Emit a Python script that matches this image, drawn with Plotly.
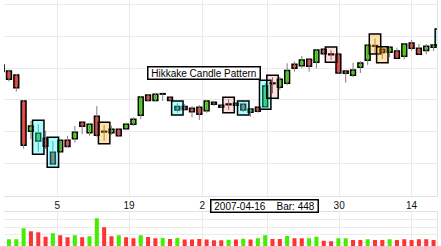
import plotly.graph_objects as go

# ---- data (bar index, OHLC, volume) ----
bar_index = list(range(-1, 60))
open_ = [1523.8, 1516.3, 1511.3, 1478.8, 1440.9, 1428.8, 1432.1, 1414.6, 1415.4, 1429.6,
         1431.6, 1452.1, 1439.1, 1459.6, 1440.9, 1439.1, 1443.4, 1444.1, 1449.6, 1460.9,
         1486.3, 1479.4, 1487.8, 1483.4, 1471.9, 1471.9, 1469.6, 1470.9, 1466.6, 1477.1,
         1473.4, 1474.1, 1473.4, 1474.6, 1464.6, 1470.9, 1471.6, 1501.3, 1495.9, 1500.9,
         1524.6, 1522.9, 1530.9, 1527.1, 1543.4, 1537.5, 1537.1, 1516.3, 1510.9, 1520.9,
         1529.6, 1548.1, 1543.4, 1539.6, 1541.3, 1534.6, 1551.3, 1544.6, 1541.9, 1545.9,
         1550.0]
high = [1526.3, 1518.1, 1512.5, 1480.0, 1453.8, 1449.6, 1441.6, 1428.8, 1431.3, 1435.0,
        1447.5, 1452.9, 1451.6, 1472.5, 1448.8, 1447.9, 1444.1, 1451.6, 1458.4, 1485.0,
        1487.5, 1487.5, 1487.9, 1484.6, 1475.9, 1475.0, 1472.5, 1473.8, 1480.0, 1478.8,
        1474.4, 1480.9, 1476.9, 1476.9, 1470.0, 1472.5, 1500.9, 1508.4, 1509.1, 1525.9,
        1528.1, 1535.0, 1531.9, 1543.1, 1544.4, 1542.5, 1539.1, 1517.5, 1526.6, 1528.8,
        1548.8, 1556.9, 1546.3, 1546.6, 1545.4, 1550.4, 1555.0, 1550.0, 1550.0, 1550.0,
        1567.5]
low = [1515.0, 1503.1, 1490.4, 1419.1, 1431.3, 1415.4, 1418.8, 1398.8, 1413.8, 1421.3,
       1426.9, 1437.1, 1435.4, 1434.1, 1428.8, 1436.3, 1434.1, 1442.1, 1447.5, 1455.9,
       1478.1, 1477.9, 1478.8, 1478.8, 1464.1, 1466.9, 1458.4, 1455.0, 1464.1, 1472.5,
       1470.0, 1467.5, 1472.5, 1465.0, 1459.1, 1464.1, 1469.6, 1488.4, 1492.5, 1498.4,
       1515.6, 1519.6, 1515.4, 1519.6, 1536.9, 1530.0, 1513.4, 1501.6, 1508.8, 1513.8,
       1523.8, 1538.4, 1531.3, 1533.4, 1531.9, 1530.9, 1541.6, 1536.9, 1537.1, 1541.3,
       1547.5]
close = [1515.6, 1505.9, 1495.4, 1423.4, 1447.5, 1438.4, 1422.1, 1400.0, 1429.6, 1421.9,
         1439.6, 1447.1, 1449.6, 1435.9, 1440.0, 1443.4, 1435.4, 1449.6, 1455.9, 1483.8,
         1479.4, 1487.1, 1487.3, 1479.4, 1467.5, 1468.1, 1465.4, 1462.1, 1478.8, 1474.6,
         1470.9, 1475.0, 1475.9, 1467.5, 1468.8, 1465.9, 1497.5, 1500.4, 1505.9, 1516.9,
         1519.6, 1530.0, 1522.1, 1542.5, 1537.9, 1536.6, 1513.8, 1513.4, 1517.5, 1526.3,
         1548.4, 1547.3, 1539.4, 1545.9, 1532.1, 1550.0, 1544.6, 1537.1, 1547.1, 1548.8,
         1565.0]
volume = [1.40, 1.42, 1.42, 2.84, 2.45, 2.32, 1.75, 2.19, 1.94, 1.68,
          1.94, 1.68, 1.81, 4.14, 2.97, 1.81, 1.94, 1.68, 1.55, 1.94,
          1.71, 1.55, 1.60, 1.45, 1.60, 1.40, 1.40, 1.45, 1.40, 1.30,
          1.30, 1.35, 1.40, 1.50, 1.40, 1.55, 1.94, 1.45, 1.45, 1.84,
          1.55, 1.55, 1.55, 1.75, 1.23, 1.16, 1.55, 1.55, 1.32, 1.32,
          1.42, 1.32, 1.32, 1.42, 1.32, 1.42, 1.32, 1.42, 1.42, 1.32,
          1.50]  # millions
volume_up = [1, 1, 1, 1, 0, 0, 0, 1, 0, 0,
             1, 0, 1, 1, 0, 0, 1, 0, 0, 1,
             0, 0, 1, 0, 1, 0, 0, 0, 0, 0,
             0, 1, 0, 1, 0, 1, 1, 0, 0, 1,
             0, 0, 1, 1, 0, 0, 1, 1, 0, 0,
             1, 0, 0, 1, 0, 0, 0, 0, 0, 0,
             1]

tick_pos = [6.6, 16.4, 26.4, 35.3, 45.1, 55.0]
tick_text = ["5", "19", "2", "", "30", "14"]  # the "16" label is hidden under the cursor box

# pattern highlight boxes
box_bar = [4, 6, 23, 32, 35, 59, 30, 36, 44, 13, 50, 51]
box_kind = ["cyan", "cyan", "cyan", "cyan", "cyan", "cyan",
            "pink", "pink", "pink", "tan", "tan", "tan"]
box_top = [1454.6, 1433.4, 1478.8, 1478.8, 1504.6, 1568.8,
           1483.4, 1510.9, 1546.3, 1452.1, 1562.5, 1546.6]
box_bottom = [1412.1, 1395.9, 1461.3, 1461.3, 1468.4, 1548.8,
              1464.1, 1482.1, 1527.1, 1425.4, 1537.5, 1526.6]

label_text = "Hikkake Candle Pattern"
cursor_text = "2007-04-16\u00a0\u00a0\u00a0\u00a0Bar: 448"

RED = "#ff3333"
GREEN = "#44ee00"
box_fill = {"cyan": "rgba(0,255,255,0.32)",
            "pink": "rgba(255,0,0,0.12)",
            "tan": "rgba(255,165,0,0.32)"}

# ---- traces ----
wx, wy = [], []
for i, h, l in zip(bar_index, high, low):
    wx += [i, i, None]
    wy += [h, l, None]

body_base = [min(o, c) for o, c in zip(open_, close)]
body_h = [max(abs(c - o), 0.6) for o, c in zip(open_, close)]
body_col = [GREEN if c >= o else RED for o, c in zip(open_, close)]
vol_col = [GREEN if u else RED for u in volume_up]

fig = go.Figure()
fig.add_trace(go.Scatter(x=wx, y=wy, mode="lines",
                         line=dict(color="#808080", width=1),
                         hoverinfo="skip", xaxis="x", yaxis="y"))
fig.add_trace(go.Bar(x=bar_index, y=body_h, base=body_base, width=0.66,
                     marker=dict(color=body_col, line=dict(color="black", width=1.5)),
                     xaxis="x", yaxis="y"))
fig.add_trace(go.Bar(x=bar_index, y=[v * 1e6 for v in volume], width=0.55,
                     marker=dict(color=vol_col, line=dict(width=0)),
                     xaxis="x2", yaxis="y2"))

shapes = []
for b, k, t, btm in zip(box_bar, box_kind, box_top, box_bottom):
    shapes.append(dict(type="rect", xref="x", yref="y",
                       x0=b - 0.78, x1=b + 0.78, y0=btm, y1=t,
                       fillcolor=box_fill[k], line=dict(color="black", width=1.5),
                       layer="above"))

grid = "#ebebeb"
fig.update_layout(
    width=441, height=246,
    margin=dict(l=4, r=4, t=0, b=0),
    paper_bgcolor="white", plot_bgcolor="white",
    showlegend=False, barmode="overlay",
    shapes=shapes,
    xaxis=dict(domain=[0, 1], range=[-0.68, 58.47], anchor="y",
               tickmode="array", tickvals=tick_pos, ticktext=tick_text,
               showgrid=True, gridcolor=grid, gridwidth=1,
               showline=True, linecolor="#e2e2e2", linewidth=1,
               ticks="", zeroline=False,
               tickfont=dict(family="Liberation Sans, Arial", size=10, color="#111")),
    xaxis2=dict(matches="x", anchor="y2", side="top",
                tickmode="array", tickvals=tick_pos,
                showticklabels=False, showgrid=True, gridcolor=grid,
                showline=True, linecolor="#e2e2e2", linewidth=1,
                ticks="", zeroline=False),
    yaxis=dict(domain=[0.2033, 1], range=[1360, 1605], tick0=1360, dtick=40,
               showticklabels=False, showgrid=True, gridcolor=grid,
               side="right", showline=True, linecolor="#e2e2e2",
               ticks="", zeroline=False),
    yaxis2=dict(domain=[0, 0.1394], range=[0.545e6, 5e6], tick0=0, dtick=1e6,
                showticklabels=False, showgrid=True, gridcolor=grid,
                side="right", showline=True, linecolor="#e2e2e2",
                ticks="", zeroline=False),
    annotations=[
        dict(text="\u00a0" + label_text + "\u00a0", xref="x", yref="y",
             x=26.64, y=1514.2, xanchor="center", yanchor="middle",
             showarrow=False, bgcolor="white", bordercolor="black",
             borderwidth=1.5, borderpad=0,
             font=dict(family="Liberation Sans, Arial", size=10, color="black")),
        dict(text="\u00a0" + cursor_text + "\u00a0", xref="x", yref="paper",
             x=34.95, y=1 - 205.8 / 246, xanchor="center", yanchor="middle",
             showarrow=False, bgcolor="white", bordercolor="black",
             borderwidth=1.5, borderpad=0,
             font=dict(family="Liberation Sans, Arial", size=10, color="black")),
    ],
)

fig.write_html("out.html")
